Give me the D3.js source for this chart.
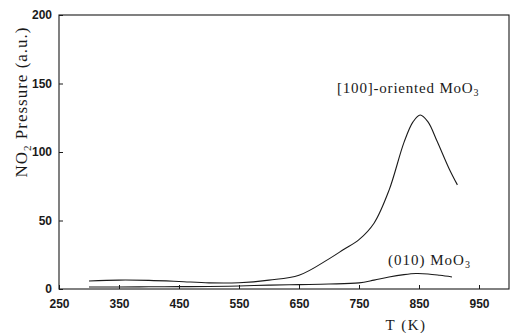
<!DOCTYPE html>
<html>
<head>
<meta charset="utf-8">
<script src="https://cdn.jsdelivr.net/npm/d3@7"></script>
<style>
  html, body { margin: 0; padding: 0; background: #fff; }
  svg { display: block; }
</style>
</head>
<body>
<svg id="chart" width="511" height="333"></svg>
<script>
// Temperature-programmed desorption of NO2 from two MoO3 surfaces
const xTicks = [250, 350, 450, 550, 650, 750, 850, 950];
const yTicks = [0, 50, 100, 150, 200];

const tempOriented = [300, 350, 400, 450, 500, 550, 600, 650, 700, 725, 750, 775, 800, 825, 840, 852, 865, 880, 900, 914];
const pressOriented = [5.8, 6.5, 6.3, 5.5, 4.5, 4.6, 6.5, 10, 22, 29, 36, 48, 72, 107, 122, 127, 122, 108, 88, 76];

const temp010 = [300, 350, 400, 450, 500, 550, 600, 650, 700, 750, 775, 800, 825, 845, 865, 885, 905];
const press010 = [1.5, 1.5, 1.6, 1.7, 1.8, 2.2, 2.8, 3.2, 3.6, 4.5, 6.5, 8.8, 10.5, 11.3, 11, 10, 8.8];

const svg = d3.select("#chart");
const margin = { left: 59, right: 2, top: 15, bottom: 44 };
const W = 511, H = 333;

const x = d3.scaleLinear().domain([250, 1000]).range([margin.left, W - margin.right]);
const y = d3.scaleLinear().domain([0, 200]).range([H - margin.bottom, margin.top]);

const ink = "#1a1a1a";

// frame
svg.append("rect")
  .attr("x", x(250)).attr("y", y(200))
  .attr("width", x(1000) - x(250)).attr("height", y(0) - y(200))
  .attr("fill", "none").attr("stroke", ink).attr("stroke-width", 1.1);

// x axis (ticks pointing inward)
const xAxis = svg.append("g")
  .attr("transform", `translate(0,${y(0)})`)
  .call(d3.axisBottom(x).tickValues(xTicks).tickSizeInner(-4).tickSizeOuter(0).tickPadding(10));
xAxis.select(".domain").remove();
xAxis.selectAll("line").attr("stroke", ink);
xAxis.selectAll("text")
  .attr("font-family", "'Liberation Sans', Arial, sans-serif")
  .attr("font-size", 12).attr("font-weight", "bold").attr("fill", ink);

// y axis
const yAxis = svg.append("g")
  .attr("transform", `translate(${x(250)},0)`)
  .call(d3.axisLeft(y).tickValues(yTicks).tickSizeInner(-4).tickSizeOuter(0).tickPadding(7));
yAxis.select(".domain").remove();
yAxis.selectAll("line").attr("stroke", ink);
yAxis.selectAll("text")
  .attr("font-family", "'Liberation Sans', Arial, sans-serif")
  .attr("font-size", 12).attr("font-weight", "bold").attr("fill", ink);

const line = d3.line().x(d => x(d[0])).y(d => y(d[1])).curve(d3.curveCatmullRom.alpha(0.5));

svg.append("path")
  .datum(d3.zip(tempOriented, pressOriented))
  .attr("d", line).attr("fill", "none").attr("stroke", ink).attr("stroke-width", 1.1);

svg.append("path")
  .datum(d3.zip(temp010, press010))
  .attr("d", line).attr("fill", "none").attr("stroke", ink).attr("stroke-width", 1.1);

const serif = "'Liberation Serif', 'Times New Roman', serif";

// curve labels
const lab1 = svg.append("text").attr("x", 337).attr("y", 93)
  .attr("font-family", serif).attr("font-size", 15).attr("letter-spacing", 0.8).attr("fill", ink);
lab1.append("tspan").text("[100]-oriented MoO");
lab1.append("tspan").attr("font-size", 10).attr("dy", 3).text("3");

const lab2 = svg.append("text").attr("x", 388).attr("y", 265)
  .attr("font-family", serif).attr("font-size", 15).attr("letter-spacing", 1).attr("fill", ink);
lab2.append("tspan").text("(010) MoO");
lab2.append("tspan").attr("font-size", 10).attr("dy", 3).text("3");

// axis titles
svg.append("text").attr("x", 406).attr("y", 330).attr("text-anchor", "middle")
  .attr("font-family", serif).attr("font-size", 15).attr("letter-spacing", 1.5).attr("fill", ink).text("T (K)");

const yl = svg.append("text")
  .attr("transform", "translate(27,102) rotate(-90)")
  .attr("text-anchor", "middle")
  .attr("font-family", serif).attr("font-size", 17).attr("letter-spacing", 1).attr("fill", ink);
yl.append("tspan").text("NO");
yl.append("tspan").attr("font-size", 11).attr("dy", 4).text("2");
yl.append("tspan").attr("dy", -4).text(" Pressure (a.u.)");
</script>
</body>
</html>
